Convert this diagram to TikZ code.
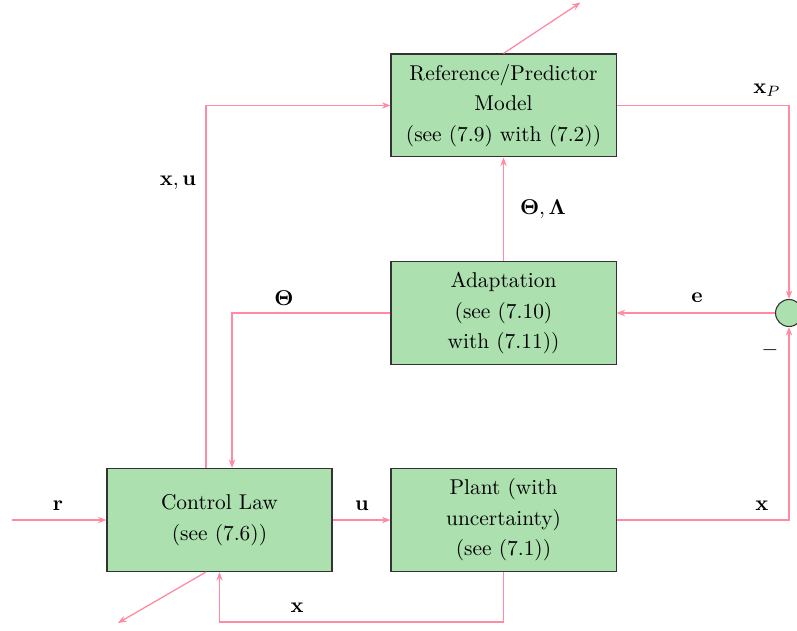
\documentclass[tikz,border=0pt]{standalone}
\usepackage{amsmath}
\usetikzlibrary{arrows.meta,calc}
\definecolor{blockgreen}{RGB}{172,224,175}
\definecolor{linkpink}{RGB}{255,138,162}
\tikzset{
  block/.style={draw=black!80,fill=blockgreen,line width=0.5pt,minimum width=3.695cm,minimum height=1.691cm,align=center,font=\fontsize{10}{14.2}\selectfont},
  sumnode/.style={draw=black!80,fill=blockgreen,circle,line width=0.5pt,minimum size=0.443cm,inner sep=0pt},
  link/.style={linkpink,line width=0.6pt},
  >={Stealth[length=4pt,width=3pt]}
}
\begin{document}
\begin{tikzpicture}
\useasboundingbox (0,0) rectangle (13.087,10.345);
% --- blocks ---
\node[block] (refmodel) at (8.268,8.613) {Reference/Predictor\\Model\\(see (7.9) with (7.2))};
\node[block] (adapt) at (8.268,5.205) {Adaptation\\(see (7.10)\\with (7.11))};
\node[block] (ctrl) at (3.604,1.806) {Control Law\\(see (7.6))};
\node[block] (plant) at (8.268,1.806) {Plant (with\\uncertainty)\\(see (7.1))};
\node[sumnode] (sum) at (12.956,5.205) {};
\coordinate (rin) at (0.197,1.806);
% --- connections ---
\draw[link,->] (rin) -- (ctrl.west);
\draw[link,->] (ctrl.east) -- (plant.west);
\draw[link,->] (plant.east) -| (sum.south);
\draw[link,->] (refmodel.east) -| (sum.north);
\draw[link,->] (sum.west) -- (adapt.east);
\draw[link,->] (adapt.north) -- (refmodel.south);
\draw[link,->] (adapt.west) -| ($(ctrl.north)+(0.206,0)$);
\draw[link,->] ($(ctrl.north)+(-0.222,0)$) |- (refmodel.west);
\draw[link,->] (plant.south) -- ++(0,-0.82) -| (ctrl.south);
\draw[link,->] ($(ctrl.south)+(-0.222,0)$) -- ++(-1.445,-0.837);
\draw[link,->] (refmodel.north) -- ++(1.264,0.837);
% --- labels ---
\node (lxp) at (12.594,8.867) {$\mathbf{x}_P$};
\node (le) at (11.445,5.452) {$\mathbf{e}$};
\node (lminus) at (12.644,4.598) {$-$};
\node (lxr) at (12.512,2.036) {$\mathbf{x}$};
\node (ltl) at (8.916,6.913) {$\boldsymbol{\Theta},\boldsymbol{\Lambda}$};
\node (lth) at (4.663,5.452) {$\boldsymbol{\Theta}$};
\node (lxu) at (2.923,7.340) {$\mathbf{x},\mathbf{u}$};
\node (lr) at (0.952,2.036) {$\mathbf{r}$};
\node (lu) at (5.944,2.036) {$\mathbf{u}$};
\node (lxb) at (4.877,0.361) {$\mathbf{x}$};
\end{tikzpicture}
\end{document}
